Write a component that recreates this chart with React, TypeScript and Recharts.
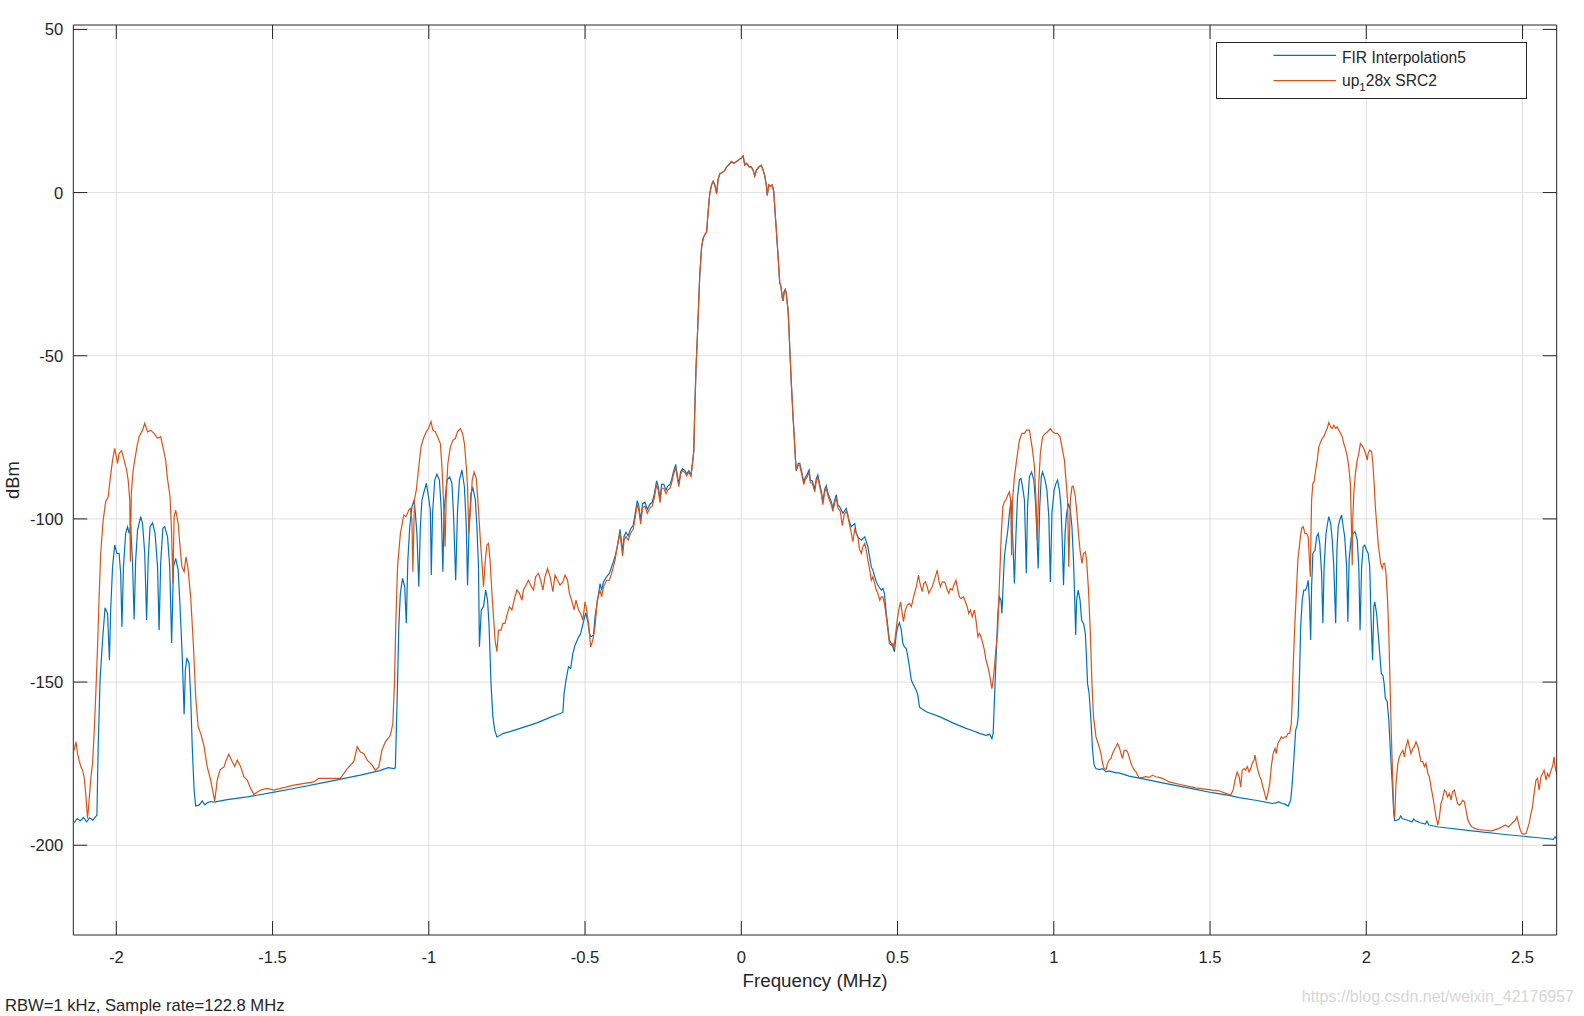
import React from 'react';
import { LineChart, Line, XAxis, YAxis, CartesianGrid, Legend, Label } from 'recharts';

const FONT = '"Liberation Sans", Arial, Helvetica, sans-serif';
const AXIS = '#262626';
const GRID = '#dfdfdf';
const BLUE = '#0072BD';
const ORANGE = '#D95319';

const xTicks = [-2, -1.5, -1, -0.5, 0, 0.5, 1, 1.5, 2, 2.5];
const yTicks = [-200, -150, -100, -50, 0, 50];
const xDomain: [number, number] = [-2.1376, 2.6093];
const yDomain: [number, number] = [-227.5, 51.35];

const firName = 'FIR Interpolation5';
const srcLabelParts = ['up', '1', '28x SRC2'];
const xLabel = 'Frequency (MHz)';
const yLabel = 'dBm';
const footerText = 'RBW=1 kHz, Sample rate=122.8 MHz';
const watermark = 'https://blog.csdn.net/weixin_42176957';

// ---------- FIR Interpolation5 (blue) ----------
const firBandL1 = [
  [-2.135,-193.1],[-2.125,-191.8],[-2.115,-192.5],[-2.105,-191.5],[-2.095,-192.8],[-2.085,-191.6],[-2.075,-192.3],[-2.066,-191.2],[-2.062,-190.8],[-2.058,-169.8],[-2.052,-149.4],[-2.044,-137.1],[-2.036,-127.2],[-2.028,-129.0],[-2.022,-143.3],[-2.018,-127.9],[-2.012,-114.7],[-2.005,-108.0],[-1.998,-110.6],[-1.991,-110.6],[-1.986,-116.7],[-1.982,-133.1],[-1.977,-114.7],[-1.970,-104.4],[-1.964,-102.4],[-1.959,-104.4],[-1.954,-102.4],[-1.948,-113.6],[-1.943,-130.8],[-1.938,-112.6],[-1.932,-103.4],[-1.922,-99.3],[-1.916,-101.4],[-1.909,-110.6],[-1.903,-131.0],[-1.898,-112.6],[-1.892,-102.4],[-1.884,-101.2],[-1.876,-104.4],[-1.868,-114.7],[-1.863,-134.1],[-1.858,-113.6],[-1.851,-102.9],[-1.845,-102.4],[-1.836,-105.5],[-1.829,-114.7],[-1.823,-138.0],[-1.817,-114.7],[-1.810,-112.1],[-1.802,-115.7],[-1.796,-126.9],[-1.789,-142.2],[-1.783,-159.9],[-1.779,-146.3],[-1.774,-142.6],[-1.767,-144.3],[-1.762,-154.5],[-1.757,-169.8],[-1.751,-183.1],[-1.746,-188.0],
];
const firFloorL1 = [
  [-1.735,-187.7],[-1.725,-186.4],[-1.717,-187.6],[-1.709,-187.0],[-1.698,-186.6],[-1.687,-186.8],[-1.645,-186.0],[-1.581,-185.2],[-1.499,-183.8],[-1.432,-182.6],[-1.325,-180.6],[-1.219,-178.5],[-1.160,-177.2],[-1.130,-176.2],[-1.112,-176.5],[-1.107,-176.3],
];
const firBandL2 = [
  [-1.104,-165.0],[-1.100,-150.4],[-1.096,-133.0],[-1.091,-122.8],[-1.084,-118.2],[-1.077,-120.8],[-1.072,-132.0],[-1.067,-112.6],[-1.061,-102.4],[-1.054,-96.3],[-1.047,-94.2],[-1.043,-98.3],[-1.038,-104.5],[-1.032,-120.8],[-1.027,-102.4],[-1.022,-94.2],[-1.014,-91.2],[-1.008,-89.1],[-1.001,-93.2],[-0.995,-97.3],[-0.992,-117.2],[-0.988,-98.3],[-0.981,-88.1],[-0.974,-86.3],[-0.966,-88.1],[-0.960,-97.3],[-0.955,-116.2],[-0.951,-97.3],[-0.942,-88.1],[-0.933,-87.1],[-0.926,-89.1],[-0.921,-98.3],[-0.914,-118.8],[-0.908,-97.3],[-0.902,-88.1],[-0.894,-85.0],[-0.886,-90.2],[-0.880,-102.4],[-0.876,-120.3],[-0.871,-102.4],[-0.865,-92.2],[-0.859,-90.4],[-0.851,-94.2],[-0.846,-102.4],[-0.841,-114.7],[-0.838,-139.2],[-0.832,-127.9],[-0.825,-126.9],[-0.818,-121.8],[-0.812,-124.9],[-0.807,-133.0],[-0.801,-150.4],[-0.795,-160.6],[-0.789,-164.7],[-0.782,-166.8],
];
const firFloorL2 = [
  [-0.772,-166.3],[-0.761,-165.7],[-0.740,-165.2],[-0.708,-164.2],[-0.654,-162.5],[-0.612,-160.8],[-0.571,-159.3],
];
const firRiseC = [
  [-0.567,-153.5],[-0.561,-149.4],[-0.553,-145.3],[-0.546,-145.8],[-0.539,-141.2],[-0.532,-138.7],[-0.521,-136.3],[-0.514,-135.1],[-0.505,-131.5],[-0.498,-128.8],[-0.491,-131.5],[-0.486,-135.1],[-0.481,-136.1],[-0.473,-135.6],[-0.468,-130.0],[-0.460,-124.9],[-0.452,-119.8],[-0.447,-121.8],[-0.441,-119.3],[-0.431,-117.7],[-0.422,-116.7],[-0.415,-114.7],[-0.404,-111.6],[-0.397,-108.5],[-0.390,-104.5],
];
const firSkirtL = [
  [-0.388,-103.2],[-0.383,-107.4],[-0.380,-110.0],[-0.375,-105.3],[-0.369,-104.1],[-0.362,-105.2],[-0.354,-103.0],[-0.346,-102.0],[-0.340,-98.7],[-0.333,-94.4],[-0.328,-96.0],[-0.322,-100.4],[-0.316,-95.4],[-0.308,-94.9],[-0.301,-97.1],[-0.292,-95.4],[-0.285,-94.9],[-0.278,-92.2],[-0.271,-88.3],[-0.266,-90.0],[-0.260,-93.8],[-0.255,-89.4],[-0.248,-89.4],[-0.241,-91.1],[-0.236,-90.0],[-0.228,-89.4],[-0.223,-88.0],[-0.218,-85.8],[-0.210,-83.3],[-0.205,-86.5],[-0.200,-89.3],[-0.194,-85.5],[-0.188,-84.6],[-0.181,-85.1],[-0.175,-86.2],[-0.168,-85.2],[-0.161,-86.5],[-0.156,-82.6],
];
// main lobe, where both traces coincide
const peakCore = [
  [-0.152,-79.1],[-0.149,-67.1],[-0.145,-54.0],[-0.141,-45.2],[-0.137,-35.3],[-0.133,-25.5],[-0.127,-16.7],[-0.122,-14.0],[-0.117,-12.9],[-0.111,-12.1],[-0.106,-5.8],[-0.101,-0.3],[-0.095,2.4],[-0.090,3.5],[-0.085,2.4],[-0.079,-0.3],[-0.074,4.1],[-0.069,5.7],[-0.060,6.2],[-0.053,6.8],[-0.047,7.9],[-0.039,8.6],[-0.031,9.5],[-0.024,9.0],[-0.015,9.5],[-0.007,10.1],[0.000,10.6],[0.006,11.2],[0.011,8.4],[0.017,9.0],[0.025,7.9],[0.032,7.9],[0.038,6.8],[0.043,5.1],[0.048,6.8],[0.057,7.9],[0.064,8.4],[0.070,6.8],[0.075,5.1],[0.080,2.4],[0.083,-0.9],[0.088,2.4],[0.093,1.9],[0.099,2.4],[0.104,0.2],[0.108,-5.8],[0.112,-11.3],[0.118,-20.0],[0.123,-27.7],[0.127,-28.8],[0.131,-32.1],[0.134,-33.2],[0.137,-30.4],[0.141,-29.7],[0.144,-31.0],[0.150,-36.4],[0.155,-47.4],[0.160,-58.3],[0.166,-69.3],[0.170,-75.8],[0.173,-81.3],[0.176,-85.2],
];
const firSkirtR = [
  [0.182,-83.0],[0.187,-82.9],[0.192,-85.0],[0.200,-88.7],[0.205,-87.2],[0.210,-86.5],[0.217,-85.0],[0.221,-88.2],[0.227,-88.3],[0.235,-90.9],[0.240,-87.6],[0.245,-86.5],[0.251,-89.3],[0.256,-91.5],[0.261,-94.7],[0.267,-90.9],[0.272,-89.8],[0.277,-92.0],[0.283,-93.6],[0.288,-94.7],[0.293,-96.8],[0.299,-94.2],[0.304,-92.6],[0.309,-95.7],[0.315,-96.3],[0.325,-98.3],[0.336,-96.8],[0.344,-100.4],[0.352,-102.4],[0.363,-101.4],[0.368,-104.5],[0.373,-105.5],[0.384,-106.5],[0.395,-105.5],[0.405,-108.5],[0.416,-114.7],[0.421,-115.7],[0.427,-117.7],[0.432,-119.3],[0.440,-120.8],[0.448,-121.8],[0.453,-121.3],[0.458,-122.8],[0.464,-129.0],[0.469,-133.0],[0.474,-137.1],[0.480,-138.2],[0.485,-139.2],[0.490,-140.7],[0.496,-135.1],[0.501,-133.0],[0.506,-131.8],[0.512,-134.1],[0.517,-138.2],[0.522,-139.2],[0.528,-139.7],[0.533,-142.3],[0.538,-145.3],[0.544,-149.4],[0.549,-150.4],[0.554,-151.4],[0.560,-152.5],[0.565,-154.0],[0.570,-157.6],[0.576,-158.1],
];
const firFloorR1 = [
  [0.592,-159.1],[0.634,-160.6],[0.677,-162.5],[0.719,-164.2],[0.741,-164.9],[0.762,-165.7],[0.783,-166.3],[0.795,-166.0],[0.802,-167.3],
];
const firBandR1 = [
  [0.806,-165.7],[0.810,-155.5],[0.815,-143.3],[0.821,-129.0],[0.826,-123.9],[0.831,-124.9],[0.834,-129.0],[0.839,-117.7],[0.842,-111.6],[0.847,-107.5],[0.853,-103.4],[0.858,-98.3],[0.863,-94.2],[0.868,-104.5],[0.874,-119.8],[0.879,-104.5],[0.884,-93.2],[0.890,-88.1],[0.895,-87.6],[0.900,-90.2],[0.906,-94.2],[0.909,-104.5],[0.912,-116.7],[0.916,-96.3],[0.922,-87.1],[0.929,-85.6],[0.936,-88.1],[0.941,-94.2],[0.946,-104.5],[0.950,-115.2],[0.955,-96.3],[0.960,-87.1],[0.964,-85.6],[0.972,-88.1],[0.978,-91.2],[0.984,-99.3],[0.989,-119.3],[0.994,-98.3],[1.001,-91.2],[1.007,-89.1],[1.012,-88.1],[1.018,-91.2],[1.023,-96.3],[1.028,-109.6],[1.031,-120.3],[1.036,-104.5],[1.041,-98.3],[1.047,-95.3],[1.053,-97.3],[1.058,-102.4],[1.063,-112.6],[1.067,-124.9],[1.070,-135.6],[1.073,-124.9],[1.078,-121.8],[1.084,-124.9],[1.089,-131.0],[1.095,-132.0],[1.101,-135.1],[1.105,-143.3],[1.108,-150.4],[1.113,-153.5],[1.119,-161.7],[1.124,-170.9],[1.129,-175.4],
];
const firFloorR2 = [
  [1.135,-176.5],[1.145,-176.8],[1.156,-176.5],[1.167,-177.5],[1.177,-177.2],[1.199,-177.8],[1.209,-177.8],[1.241,-178.8],[1.294,-179.8],[1.348,-180.9],[1.401,-181.9],[1.454,-182.9],[1.507,-183.9],[1.561,-184.7],[1.593,-185.4],[1.646,-186.2],[1.699,-187.2],[1.710,-187.0],[1.720,-186.7],[1.731,-187.2],[1.740,-187.4],[1.750,-188.0],[1.758,-186.2],
];
const firBandR2 = [
  [1.763,-181.1],[1.768,-173.9],[1.774,-164.7],[1.779,-163.2],[1.782,-160.6],[1.787,-145.3],[1.790,-133.0],[1.795,-124.9],[1.800,-121.8],[1.806,-121.8],[1.811,-120.3],[1.814,-118.8],[1.818,-124.9],[1.822,-137.1],[1.825,-120.8],[1.829,-110.6],[1.836,-109.6],[1.841,-105.5],[1.846,-104.5],[1.851,-107.5],[1.857,-116.7],[1.861,-132.0],[1.865,-114.7],[1.871,-104.5],[1.876,-101.4],[1.880,-99.3],[1.886,-101.4],[1.891,-106.5],[1.896,-114.7],[1.902,-132.0],[1.906,-109.6],[1.910,-102.4],[1.915,-100.4],[1.921,-98.8],[1.926,-102.4],[1.931,-105.5],[1.937,-114.7],[1.941,-131.5],[1.945,-112.6],[1.952,-105.5],[1.958,-104.5],[1.964,-103.9],[1.971,-106.5],[1.976,-114.7],[1.980,-134.1],[1.985,-114.7],[1.990,-108.5],[1.995,-108.0],[2.001,-109.6],[2.006,-110.6],[2.011,-114.7],[2.015,-130.0],[2.020,-143.3],[2.024,-126.9],[2.027,-125.4],[2.033,-129.0],[2.038,-135.1],[2.043,-141.2],[2.048,-147.4],[2.053,-147.9],[2.057,-150.4],[2.061,-155.0],[2.067,-156.0],[2.072,-161.7],[2.077,-170.9],[2.083,-181.1],[2.088,-190.3],
];
const firFloorR3 = [
  [2.091,-192.5],[2.104,-192.1],[2.110,-191.0],[2.115,-191.8],[2.125,-192.1],[2.146,-192.8],[2.152,-191.9],[2.157,-192.5],[2.173,-193.1],[2.189,-193.5],[2.194,-192.6],[2.200,-193.8],[2.232,-194.4],[2.338,-195.6],[2.445,-196.7],[2.551,-197.7],[2.599,-198.2],[2.604,-197.4],[2.610,-198.2],
];

// ---------- up_128x SRC2 (orange) ----------
const srcBandL1 = [
  [-2.135,-170.9],[-2.129,-168.3],[-2.124,-172.0],[-2.119,-174.0],[-2.113,-176.0],[-2.108,-177.0],[-2.103,-179.0],[-2.097,-185.2],[-2.092,-191.8],[-2.087,-186.2],[-2.081,-179.0],[-2.076,-174.9],[-2.071,-165.7],[-2.066,-154.5],[-2.060,-139.2],[-2.055,-123.9],[-2.050,-110.6],[-2.042,-100.4],[-2.034,-94.7],[-2.026,-93.2],[-2.020,-88.1],[-2.012,-82.0],[-2.005,-78.4],[-1.996,-83.0],[-1.991,-79.9],[-1.983,-79.1],[-1.975,-82.0],[-1.967,-85.0],[-1.962,-88.1],[-1.957,-94.2],[-1.955,-113.1],[-1.952,-92.2],[-1.946,-85.0],[-1.941,-82.0],[-1.934,-77.9],[-1.927,-74.8],[-1.916,-72.8],[-1.909,-70.7],[-1.900,-73.3],[-1.890,-72.8],[-1.879,-73.8],[-1.868,-75.3],[-1.858,-74.8],[-1.853,-76.9],[-1.842,-82.0],[-1.837,-87.1],[-1.828,-93.2],[-1.823,-104.4],[-1.819,-119.8],[-1.815,-99.3],[-1.810,-97.3],[-1.802,-101.4],[-1.796,-108.5],[-1.790,-114.7],[-1.783,-116.2],[-1.777,-111.6],[-1.771,-114.7],[-1.762,-123.9],[-1.753,-139.2],[-1.746,-154.5],[-1.738,-163.7],[-1.730,-165.7],[-1.719,-169.8],[-1.709,-176.0],[-1.698,-180.0],[-1.690,-184.1],[-1.685,-186.4],[-1.677,-180.0],[-1.668,-176.9],[-1.655,-175.9],[-1.648,-173.9],[-1.640,-172.1],[-1.629,-174.4],[-1.621,-175.9],[-1.613,-173.9],[-1.602,-175.9],[-1.592,-179.0],[-1.581,-180.0],[-1.570,-182.6],[-1.560,-184.4],
];
const srcFloorL1 = [
  [-1.538,-183.1],[-1.517,-182.6],[-1.496,-183.1],[-1.432,-181.6],[-1.368,-180.6],[-1.352,-179.5],[-1.325,-179.5],[-1.283,-179.5],[-1.261,-176.5],[-1.240,-174.4],[-1.229,-169.8],[-1.219,-171.4],[-1.208,-171.9],[-1.197,-173.9],[-1.182,-175.4],[-1.171,-177.0],[-1.160,-176.0],[-1.150,-170.9],[-1.139,-168.3],[-1.123,-166.3],[-1.115,-162.7],
];
const srcBandL2 = [
  [-1.110,-150.4],[-1.105,-130.0],[-1.100,-114.7],[-1.091,-104.5],[-1.080,-98.8],[-1.073,-99.3],[-1.064,-97.3],[-1.059,-96.8],[-1.054,-100.4],[-1.051,-116.2],[-1.046,-94.2],[-1.040,-91.2],[-1.032,-84.0],[-1.025,-77.9],[-1.017,-75.3],[-1.008,-73.3],[-1.001,-72.3],[-0.993,-70.2],[-0.987,-72.8],[-0.979,-73.3],[-0.972,-74.8],[-0.963,-76.9],[-0.958,-84.0],[-0.953,-94.2],[-0.948,-108.5],[-0.944,-92.2],[-0.939,-83.0],[-0.931,-77.9],[-0.923,-75.9],[-0.915,-75.3],[-0.908,-73.3],[-0.899,-72.3],[-0.892,-73.8],[-0.886,-76.9],[-0.880,-84.0],[-0.876,-90.2],[-0.872,-104.5],[-0.867,-97.3],[-0.861,-88.1],[-0.855,-85.6],[-0.848,-87.6],[-0.843,-94.2],[-0.835,-106.5],[-0.829,-114.7],[-0.825,-120.8],[-0.819,-112.6],[-0.814,-108.0],[-0.809,-107.5],[-0.804,-112.6],[-0.798,-122.8],[-0.793,-130.0],[-0.788,-137.1],[-0.782,-140.7],
];
const srcHumpL = [
  [-0.777,-134.1],[-0.769,-134.1],[-0.763,-132.0],[-0.756,-132.0],[-0.750,-129.5],[-0.742,-126.9],[-0.734,-127.9],[-0.727,-124.9],[-0.718,-121.8],[-0.710,-122.8],[-0.702,-124.9],[-0.697,-121.8],[-0.689,-120.3],[-0.681,-118.8],[-0.674,-120.3],[-0.665,-121.8],[-0.658,-117.7],[-0.649,-116.7],[-0.642,-118.8],[-0.635,-121.8],[-0.628,-117.7],[-0.620,-115.2],[-0.612,-117.7],[-0.603,-122.3],[-0.596,-117.2],[-0.588,-118.8],[-0.580,-120.3],[-0.571,-119.3],[-0.564,-117.2],[-0.556,-118.8],[-0.550,-122.8],[-0.543,-124.9],[-0.535,-127.9],[-0.529,-124.9],[-0.521,-127.9],[-0.514,-129.0],[-0.507,-131.0],[-0.500,-125.4],[-0.495,-127.9],[-0.489,-132.0],[-0.482,-139.2],[-0.475,-137.1],[-0.468,-133.0],[-0.461,-124.9],[-0.452,-121.8],[-0.447,-123.9],[-0.441,-120.8],[-0.431,-118.8],[-0.422,-118.8],[-0.415,-116.7],[-0.404,-112.6],[-0.397,-108.5],
];
const srcSkirtL = [
  [-0.388,-104.3],[-0.383,-108.7],[-0.380,-111.4],[-0.375,-106.5],[-0.369,-105.4],[-0.362,-106.5],[-0.354,-104.3],[-0.346,-103.2],[-0.340,-99.9],[-0.333,-95.6],[-0.328,-97.2],[-0.322,-101.6],[-0.316,-96.6],[-0.308,-96.1],[-0.301,-98.3],[-0.292,-96.6],[-0.285,-96.1],[-0.278,-93.4],[-0.271,-89.5],[-0.266,-91.2],[-0.260,-95.0],[-0.255,-90.6],[-0.248,-90.6],[-0.241,-92.3],[-0.236,-91.2],[-0.228,-90.6],[-0.223,-89.0],[-0.218,-86.8],[-0.210,-84.1],[-0.205,-87.3],[-0.200,-90.1],[-0.194,-86.2],[-0.188,-85.2],[-0.181,-85.7],[-0.175,-86.8],[-0.168,-85.7],[-0.161,-87.0],[-0.156,-83.0],
];
const srcSkirtR = [
  [0.182,-83.5],[0.187,-83.5],[0.192,-85.7],[0.200,-89.5],[0.205,-87.9],[0.210,-87.3],[0.217,-85.7],[0.221,-89.0],[0.227,-89.0],[0.235,-91.7],[0.240,-88.4],[0.245,-87.3],[0.251,-90.1],[0.256,-92.3],[0.261,-95.6],[0.267,-91.7],[0.272,-90.6],[0.277,-92.8],[0.283,-94.5],[0.288,-95.6],[0.293,-97.7],[0.299,-95.0],[0.304,-93.4],[0.309,-96.6],[0.317,-97.7],[0.323,-102.1],[0.329,-98.8],[0.336,-97.7],[0.341,-98.8],[0.347,-102.1],[0.352,-104.3],[0.357,-107.0],[0.363,-103.2],[0.368,-104.3],[0.373,-105.4],[0.378,-109.2],
];
const srcHumpR = [
  [0.384,-110.6],[0.389,-108.5],[0.395,-107.5],[0.400,-109.6],[0.405,-112.6],[0.411,-115.7],[0.416,-118.8],[0.421,-117.7],[0.427,-119.8],[0.432,-121.8],[0.437,-122.8],[0.443,-124.9],[0.448,-123.9],[0.453,-123.9],[0.458,-125.9],[0.464,-130.0],[0.469,-134.1],[0.474,-138.2],[0.480,-138.7],[0.485,-138.2],[0.488,-139.7],[0.494,-135.1],[0.499,-131.0],[0.504,-127.9],[0.510,-125.4],[0.515,-129.0],[0.519,-131.5],[0.525,-127.9],[0.531,-126.4],[0.538,-125.9],[0.544,-126.9],[0.549,-124.9],[0.554,-122.8],[0.560,-120.8],[0.567,-117.2],[0.572,-119.8],[0.579,-122.3],[0.584,-119.8],[0.589,-119.3],[0.595,-120.8],[0.600,-122.8],[0.605,-121.8],[0.611,-120.8],[0.616,-119.3],[0.621,-117.7],[0.627,-115.7],[0.632,-118.8],[0.637,-120.8],[0.643,-119.3],[0.648,-119.3],[0.653,-119.8],[0.659,-121.8],[0.664,-122.8],[0.669,-121.3],[0.675,-121.8],[0.680,-120.3],[0.687,-118.8],[0.693,-121.8],[0.698,-123.9],[0.703,-124.4],[0.711,-123.9],[0.717,-125.4],[0.723,-126.9],[0.728,-129.0],[0.733,-127.9],[0.739,-130.0],[0.746,-127.9],[0.751,-131.0],[0.757,-136.1],[0.762,-135.1],[0.767,-136.1],[0.773,-138.2],[0.778,-140.2],[0.783,-143.3],[0.789,-145.3],[0.794,-147.4],[0.799,-150.4],[0.802,-152.0],
];
const srcBandR1 = [
  [0.807,-148.4],[0.811,-144.3],[0.815,-139.7],[0.820,-135.1],[0.824,-124.9],[0.828,-114.7],[0.832,-104.5],[0.837,-96.3],[0.842,-94.7],[0.847,-94.2],[0.853,-92.7],[0.858,-91.7],[0.862,-94.2],[0.865,-111.1],[0.868,-94.2],[0.874,-87.1],[0.881,-82.0],[0.890,-75.9],[0.898,-73.8],[0.906,-73.8],[0.913,-72.8],[0.922,-72.8],[0.927,-75.9],[0.932,-78.9],[0.938,-84.0],[0.943,-94.2],[0.947,-106.5],[0.952,-89.1],[0.957,-79.9],[0.964,-74.8],[0.973,-73.8],[0.980,-73.3],[0.989,-72.3],[0.996,-73.3],[1.005,-73.8],[1.012,-73.8],[1.020,-74.8],[1.026,-77.9],[1.034,-82.0],[1.039,-88.1],[1.044,-94.2],[1.048,-114.7],[1.053,-94.2],[1.058,-90.2],[1.062,-89.9],[1.069,-93.2],[1.074,-98.3],[1.079,-104.5],[1.084,-109.6],[1.090,-113.6],[1.095,-110.6],[1.101,-110.1],[1.105,-112.6],[1.111,-121.8],[1.117,-135.1],[1.122,-150.4],[1.127,-160.6],[1.135,-166.8],
];
const srcFloorR1 = [
  [1.140,-168.3],[1.145,-169.8],[1.151,-171.9],[1.156,-174.9],[1.161,-176.5],[1.167,-176.8],[1.172,-174.9],[1.177,-173.9],[1.183,-173.4],[1.188,-171.9],[1.193,-170.9],[1.199,-169.8],[1.204,-168.8],[1.209,-169.8],[1.215,-171.9],[1.220,-173.4],[1.225,-170.9],[1.231,-170.9],[1.236,-171.4],[1.241,-172.9],[1.247,-174.9],[1.252,-176.0],[1.257,-176.8],[1.263,-177.5],[1.268,-178.5],[1.273,-179.3],[1.284,-179.2],[1.294,-179.0],[1.305,-179.2],[1.316,-178.5],[1.326,-179.0],[1.337,-179.2],[1.348,-179.5],[1.358,-180.0],[1.369,-180.6],[1.401,-181.3],[1.454,-182.4],[1.507,-183.1],[1.529,-183.3],[1.550,-184.1],[1.566,-184.6],[1.574,-183.1],[1.580,-180.0],[1.587,-177.5],[1.593,-179.0],
];
const srcBandR2 = [
  [1.598,-182.1],[1.603,-177.0],[1.609,-176.5],[1.614,-177.0],[1.619,-175.9],[1.625,-177.5],[1.630,-176.5],[1.635,-174.9],[1.641,-173.9],[1.644,-172.4],[1.648,-174.9],[1.653,-177.0],[1.659,-179.0],[1.664,-180.0],[1.669,-182.1],[1.675,-184.1],[1.680,-186.2],[1.685,-184.1],[1.691,-181.1],[1.696,-175.9],[1.702,-171.9],[1.708,-170.3],[1.712,-171.9],[1.717,-168.8],[1.723,-167.8],[1.728,-166.8],[1.733,-167.3],[1.739,-166.8],[1.744,-166.8],[1.750,-165.7],[1.755,-165.7],[1.760,-162.7],[1.763,-155.5],[1.766,-145.3],[1.771,-133.0],[1.776,-122.8],[1.781,-112.6],[1.788,-106.5],[1.793,-102.9],[1.798,-102.4],[1.804,-104.5],[1.809,-104.5],[1.814,-105.5],[1.818,-112.6],[1.821,-117.7],[1.823,-104.5],[1.825,-94.2],[1.829,-89.1],[1.833,-88.6],[1.838,-85.0],[1.843,-82.0],[1.848,-77.9],[1.854,-76.4],[1.859,-75.3],[1.864,-74.8],[1.870,-73.3],[1.875,-72.3],[1.880,-70.5],[1.886,-71.8],[1.891,-72.3],[1.896,-71.3],[1.902,-72.3],[1.907,-71.8],[1.912,-72.8],[1.918,-73.8],[1.923,-74.8],[1.928,-76.9],[1.933,-78.4],[1.939,-80.9],[1.944,-84.0],[1.949,-89.1],[1.953,-104.5],[1.955,-114.2],[1.957,-99.3],[1.960,-92.2],[1.965,-86.1],[1.971,-82.0],[1.976,-79.9],[1.981,-76.9],[1.985,-77.4],[1.989,-77.9],[1.994,-78.9],[1.999,-80.4],[2.003,-82.0],[2.006,-79.9],[2.011,-78.9],[2.017,-79.4],[2.021,-83.0],[2.025,-89.1],[2.029,-96.3],[2.034,-102.4],[2.038,-107.5],[2.042,-110.6],[2.046,-113.6],[2.051,-115.2],[2.055,-113.6],[2.059,-113.6],[2.063,-116.7],[2.068,-124.9],[2.072,-135.1],[2.076,-150.4],[2.080,-165.7],[2.085,-181.1],[2.088,-190.3],[2.091,-191.3],
];
const srcFloorR2 = [
  [2.095,-181.1],[2.101,-174.9],[2.106,-172.9],[2.111,-171.9],[2.117,-170.9],[2.122,-172.9],[2.127,-169.8],[2.133,-167.8],[2.138,-169.8],[2.143,-171.9],[2.149,-170.3],[2.154,-169.8],[2.159,-168.3],[2.165,-169.8],[2.170,-171.9],[2.175,-174.4],[2.181,-174.4],[2.186,-175.9],[2.191,-174.9],[2.197,-178.0],[2.202,-179.0],[2.207,-182.1],[2.213,-185.2],[2.218,-188.2],[2.223,-191.3],[2.229,-193.8],[2.234,-191.3],[2.239,-187.2],[2.244,-185.7],[2.250,-183.1],[2.255,-183.6],[2.260,-185.2],[2.266,-184.1],[2.271,-186.2],[2.276,-183.6],[2.282,-183.1],[2.287,-185.2],[2.292,-187.2],[2.298,-187.7],[2.303,-187.2],[2.308,-186.2],[2.314,-186.7],[2.319,-189.2],[2.324,-191.8],[2.330,-193.3],[2.338,-194.4],[2.349,-194.9],[2.360,-195.2],[2.381,-195.4],[2.402,-195.6],[2.413,-195.2],[2.423,-194.9],[2.434,-194.4],[2.445,-193.8],[2.455,-194.4],[2.466,-193.3],[2.477,-192.3],[2.482,-191.3],[2.487,-193.3],[2.493,-195.4],[2.498,-196.4],[2.505,-196.6],[2.511,-196.4],[2.516,-194.9],[2.521,-193.3],[2.527,-190.3],[2.532,-188.2],[2.537,-184.1],[2.543,-180.0],[2.548,-179.5],[2.553,-183.1],[2.559,-179.0],[2.564,-178.0],[2.569,-177.0],[2.575,-180.0],[2.580,-178.0],[2.585,-179.0],[2.591,-177.0],[2.596,-175.9],[2.601,-172.9],[2.604,-175.9],[2.610,-178.5],
];

const toRows = (segs: number[][][]) => segs.flat().map(([f, v]) => ({ f, v }));

const firData = toRows([firBandL1, firFloorL1, firBandL2, firFloorL2, firRiseC, firSkirtL, peakCore, firSkirtR, firFloorR1, firBandR1, firFloorR2, firBandR2, firFloorR3]);
const srcData = toRows([srcBandL1, srcFloorL1, srcBandL2, srcHumpL, srcSkirtL, peakCore, srcSkirtR, srcHumpR, srcBandR1, srcFloorR1, srcBandR2, srcFloorR2]);

const TICK_LEN = 14;
const TICK_FONT = 16.6;

const XTickBottom = (p: any) => (
  <g>
    <line x1={p.x} y1={p.y} x2={p.x} y2={p.y - TICK_LEN} stroke={AXIS} strokeWidth={1} />
    <text x={p.x} y={p.y + 28} textAnchor="middle" fontSize={TICK_FONT} fontFamily={FONT} fill={AXIS}>{String(p.payload.value)}</text>
  </g>
);
const XTickTop = (p: any) => (
  <line x1={p.x} y1={p.y} x2={p.x} y2={p.y + TICK_LEN} stroke={AXIS} strokeWidth={1} />
);
const YTickLeft = (p: any) => (
  <g>
    <line x1={p.x} y1={p.y} x2={p.x + TICK_LEN} y2={p.y} stroke={AXIS} strokeWidth={1} />
    <text x={p.x - 10} y={p.y + 6} textAnchor="end" fontSize={TICK_FONT} fontFamily={FONT} fill={AXIS}>{String(p.payload.value)}</text>
  </g>
);
const YTickRight = (p: any) => (
  <line x1={p.x} y1={p.y} x2={p.x - TICK_LEN} y2={p.y} stroke={AXIS} strokeWidth={1} />
);

const XLabelContent = (p: any) => {
  const vb = p.viewBox || {};
  return (
    <text x={vb.x + vb.width / 2} y={vb.y + 52} textAnchor="middle" fontSize={18.8} fontFamily={FONT} fill={AXIS}>{xLabel}</text>
  );
};
const FooterContent = (p: any) => {
  const vb = p.viewBox || {};
  return (
    <text x={5} y={vb.y + 75.5} textAnchor="start" fontSize={16.6} fontFamily={FONT} fill={AXIS}>{footerText}</text>
  );
};
const WatermarkContent = (p: any) => {
  const vb = p.viewBox || {};
  return (
    <text x={1574} y={vb.y + 67} textAnchor="end" fontSize={16} fontFamily={FONT} fill="#d6d6d6">{watermark}</text>
  );
};
const YLabelContent = (p: any) => {
  const vb = p.viewBox || {};
  const cy = vb.y + vb.height / 2;
  return (
    <text x={19.3} y={cy} transform={`rotate(-90 19.3 ${cy})`} textAnchor="middle" fontSize={18.4} fontFamily={FONT} fill={AXIS}>{yLabel}</text>
  );
};

const LegendBox = () => (
  <svg width={312} height={58} style={{ display: 'block', overflow: 'visible' }}>
    <rect x={0.5} y={0.5} width={310} height={56} fill="#ffffff" stroke={AXIS} strokeWidth={1} />
    <line x1={57.6} y1={13.4} x2={120} y2={13.4} stroke={BLUE} strokeWidth={1.2} />
    <text x={126} y={21} fontSize={15.6} fontFamily={FONT} fill={AXIS}>{firName}</text>
    <line x1={57.6} y1={38.7} x2={120} y2={38.7} stroke={ORANGE} strokeWidth={1.2} />
    <text x={126} y={43.7} fontSize={15.6} fontFamily={FONT} fill={AXIS}>
      <tspan>{srcLabelParts[0]}</tspan>
      <tspan dy={5.5} fontSize={11.5}>{srcLabelParts[1]}</tspan>
      <tspan dy={-5.5}>{srcLabelParts[2]}</tspan>
    </text>
  </svg>
);

export default function App() {
  return (
    <div style={{ position: 'absolute', left: 0, top: 0, width: 1584, height: 1016, background: '#ffffff' }}>
      <LineChart width={1584} height={1016} margin={{ top: 0, right: 0, bottom: 0, left: 0 }}>
        <CartesianGrid stroke={GRID} strokeWidth={1} horizontalValues={yTicks} verticalValues={xTicks} />
        <XAxis
          type="number"
          dataKey="f"
          domain={xDomain}
          ticks={xTicks}
          interval={0}
          allowDataOverflow
          height={81}
          tickSize={0}
          tickMargin={0}
          tickLine={false}
          axisLine={{ stroke: AXIS, strokeWidth: 1 }}
          tick={<XTickBottom />}
        >
          <Label content={<XLabelContent />} />
          <Label content={<FooterContent />} />
          <Label content={<WatermarkContent />} />
        </XAxis>
        <XAxis
          xAxisId="top"
          orientation="top"
          type="number"
          dataKey="f"
          domain={xDomain}
          ticks={xTicks}
          interval={0}
          allowDataOverflow
          height={25}
          tickSize={0}
          tickMargin={0}
          tickLine={false}
          axisLine={{ stroke: AXIS, strokeWidth: 1 }}
          tick={<XTickTop />}
        />
        <YAxis
          type="number"
          domain={yDomain}
          ticks={yTicks}
          interval={0}
          allowDataOverflow
          width={73.3}
          tickSize={0}
          tickMargin={0}
          tickLine={false}
          axisLine={{ stroke: AXIS, strokeWidth: 1 }}
          tick={<YTickLeft />}
        >
          <Label content={<YLabelContent />} />
        </YAxis>
        <YAxis
          yAxisId="right"
          orientation="right"
          type="number"
          domain={yDomain}
          ticks={yTicks}
          interval={0}
          allowDataOverflow
          width={27.3}
          tickSize={0}
          tickMargin={0}
          tickLine={false}
          axisLine={{ stroke: AXIS, strokeWidth: 1 }}
          tick={<YTickRight />}
        />
        <Line data={firData} dataKey="v" name={firName} type="linear" stroke={BLUE} strokeWidth={1.2} dot={false} activeDot={false} isAnimationActive={false} />
        <Line data={srcData} dataKey="v" name={srcLabelParts.join('')} type="linear" stroke={ORANGE} strokeWidth={1.2} dot={false} activeDot={false} isAnimationActive={false} />
        <Legend
          layout="vertical"
          verticalAlign="middle"
          align="center"
          content={<LegendBox />}
          wrapperStyle={{ position: 'absolute', left: 1215.7, top: 42.3, width: 312, height: 58 }}
        />
      </LineChart>
    </div>
  );
}
